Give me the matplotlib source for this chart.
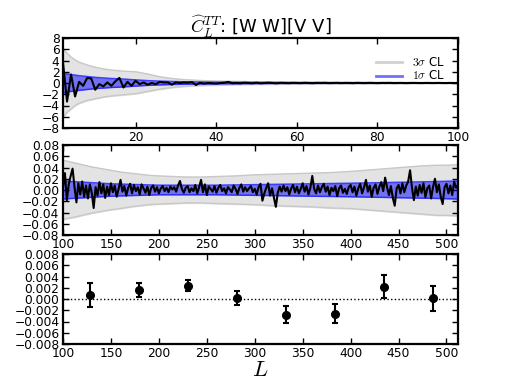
import numpy as np
import matplotlib
matplotlib.use("Agg")
import matplotlib.pyplot as plt
from matplotlib.lines import Line2D

plt.rcParams['mathtext.fontset'] = 'cm'
plt.rcParams['font.family'] = ['DejaVu Sans']

# ---------------- data ----------------
# top panel: L = 2..100
top_L = np.arange(2, 101)
top_vals = [3.6, -3.3, 1.5, -2.4, 0.2, -0.5, 0.9, 0.8, -1.2, -0.2,
            -0.6, 0.1, -0.5, 0.3, 0.9, -0.8, 0.2, -0.5, 0.4, -0.2,
            0.1, -0.3, 0.0, -0.2, 0.2, 0.1, 0.1, -0.3, 0.1, 0.0,
            0.1, 0.05, 0.15, -0.35, 0.05, -0.1, 0.0, -0.05, -0.1, 0.0,
            0.05, 0.2, -0.05, 0.0, -0.05, 0.05, 0.0, -0.05, 0.05, -0.05,
            0.0, 0.05, 0.0, -0.05, 0.03, 0.0, -0.03, 0.02, 0.0, -0.02,
            0.03, 0.0, -0.03, 0.02, 0.0, 0.03, -0.02, 0.0, 0.02, -0.02,
            0.01, 0.0, -0.02, 0.02, 0.0, -0.01, 0.02, 0.0, -0.02, 0.01,
            0.0, 0.02, -0.01, 0.0, 0.01, -0.02, 0.0, 0.01, 0.0, -0.01,
            0.01, 0.0, -0.01, 0.01, 0.0, -0.01, 0.01, 0.0, 0.0]

top_band_L = [2, 3, 4, 5, 6, 8, 10, 12, 14, 17, 20, 23, 26, 29, 32, 36, 40, 45, 50, 60, 70, 80, 90, 100]
top_3s_hi = [6.0, 5.3, 4.6, 4.1, 3.7, 3.2, 2.8, 2.5, 2.3, 2.1, 2.0, 1.6, 1.1, 0.8, 0.6, 0.45, 0.35, 0.28, 0.22, 0.16, 0.12, 0.1, 0.08, 0.07]
top_3s_lo = [-6.0, -5.2, -4.6, -4.0, -3.6, -3.1, -2.8, -2.5, -2.3, -2.1, -1.9, -1.5, -1.1, -0.8, -0.6, -0.45, -0.35, -0.28, -0.22, -0.16, -0.12, -0.1, -0.08, -0.07]
top_1s = [1.8, 1.6, 1.5, 1.4, 1.3, 1.15, 1.0, 0.9, 0.8, 0.7, 0.55, 0.42, 0.33, 0.27, 0.22, 0.18, 0.15, 0.12, 0.1, 0.07, 0.06, 0.05, 0.045, 0.04]

# middle panel: L = 100..512 (step 2), values in units of 1e-3
mid_L = np.arange(100, 513, 2)
mid_vals_milli = [5, 30, -18, 10, 25, 38, 5, -22, 12, -8,
                  15, -12, 8, -15, 10, -5, -32, 5, -10, 14,
                  -6, 10, -14, 6, -9, 12, -4, 8, -12, 2,
                  18, -3, 7, -10, 4, 11, -6, 9, -2, 5,
                  -8, 10, 3, -5, 6, -9, 4, 8, -3, 5,
                  -6, 3, 7, -2, 4, -4, 6, 1, 5, -3,
                  8, 16, 2, -5, 4, 7, -4, 3, -2, 9,
                  -6, 5, 18, -4, 10, -9, 6, 2, -3, 7,
                  -5, 4, 9, -2, 3, -6, 5, 1, -4, 8,
                  2, -7, 4, 10, -3, 5, -2, 3, 7, -4,
                  2, -8, 5, 11, -19, -6, 4, 12, -10, 3,
                  -14, -30, -5, 6, -3, 8, -2, 5, -8, 3,
                  9, -4, 6, -6, 2, 12, -3, 7, -8, 4,
                  25, 2, -6, 8, -4, 5, 11, -3, 6, -9,
                  4, -2, 7, -11, 3, 8, -5, 2, -7, 5,
                  9, -4, 6, -10, 3, 11, -6, 5, 18, -3,
                  8, -12, 4, 10, -7, 6, 14, -2, 22, 5,
                  -9, 7, -14, -28, 3, 9, -6, 12, -4, 8,
                  15, 35, 4, -18, 6, -10, 9, -5, 12, -13,
                  3, 8, -15, 6, 20, -4, 10, -12, -25, 5,
                  11, -6, 8, -9, 15, 4, 9]

mid_band_L = [100, 110, 120, 130, 140, 150, 160, 170, 180, 190, 200, 215, 230, 245, 260,
              280, 300, 320, 340, 360, 380, 400, 415, 430, 445, 460, 475, 490, 500, 512]
mid_3s_hi_milli = [53, 49, 45, 41, 38, 35, 32, 30, 28, 26, 25, 24, 23, 23, 24,
                   25, 27, 28, 29, 30, 31, 33, 35, 37, 39, 41, 43, 44, 44, 45]
mid_3s_lo_milli = [-52, -49, -45, -41, -38, -35, -33, -30, -28, -26, -25, -24, -23, -23, -24,
                   -25, -26, -28, -29, -30, -32, -33, -35, -37, -39, -41, -43, -45, -45, -46]
mid_1s_milli = [16, 15, 14, 13, 12, 11, 10.5, 10, 9.5, 9, 8.5, 8.5, 8.5, 8.5, 8.5,
                9, 9.5, 10, 10.5, 11, 11.5, 12, 12.5, 13, 13.5, 14, 14.5, 15, 15.5, 16]

# bottom panel: binned values
bin_L = [128.5, 179.5, 230.5, 281.5, 332.5, 383.5, 434.5, 485.5]
bin_vals = [0.0007, 0.0016, 0.0024, 0.0002, -0.0028, -0.0026, 0.0022, 0.0001]
bin_errs = [0.0022, 0.0013, 0.0010, 0.0012, 0.0015, 0.0017, 0.0021, 0.0022]

title_text = r'$\widehat{C}_L^{TT}$: [W W][V V]'

# ---------------- plotting ----------------
mid_vals = np.array(mid_vals_milli[:len(mid_L)]) * 1e-3
mid_3s_hi = np.array(mid_3s_hi_milli) * 1e-3
mid_3s_lo = np.array(mid_3s_lo_milli) * 1e-3
mid_1s = np.array(mid_1s_milli) * 1e-3

fig = plt.figure(figsize=(5.09, 3.82), dpi=100)
left, width = 63 / 509, (458 - 63) / 509
ax1 = fig.add_axes([left, 1 - 128 / 382, width, 90 / 382])
ax2 = fig.add_axes([left, 1 - 235 / 382, width, 90 / 382])
ax3 = fig.add_axes([left, 1 - 344 / 382, width, 90 / 382])

gray_fill = '#e3e3e3'
gray_edge = '#c8c8c8'


def style(ax):
    ax.tick_params(direction='in', top=True, right=True, length=4, width=1,
                   labelsize=8.8, pad=2.5)
    for s in ax.spines.values():
        s.set_linewidth(1.6)


def bands(ax, L, hi3, lo3, s1):
    L = np.asarray(L)
    s1 = np.asarray(s1)
    ax.fill_between(L, lo3, hi3, color=gray_fill, zorder=1)
    ax.plot(L, hi3, color=gray_edge, lw=1, zorder=1.5)
    ax.plot(L, lo3, color=gray_edge, lw=1, zorder=1.5)
    ax.fill_between(L, -s1, s1, color='#0000ff', alpha=0.5, lw=0, zorder=2)
    ax.plot(L, s1, color='#2222ff', lw=1.1, alpha=0.85, zorder=2.5)
    ax.plot(L, -s1, color='#2222ff', lw=1.1, alpha=0.85, zorder=2.5)


# top
bands(ax1, top_band_L, top_3s_hi, top_3s_lo, top_1s)
ax1.plot(top_L, top_vals, color='black', lw=1.5, zorder=3)
ax1.set_xlim(2, 100)
ax1.set_ylim(-8, 8)
ax1.set_yticks(np.arange(-8, 9, 2))
ax1.set_xticks([20, 40, 60, 80, 100])
style(ax1)
ax1.set_title(title_text, fontsize=13, pad=3)
handles = [Line2D([], [], color='#d0d0d0', lw=2),
           Line2D([], [], color='#7070ff', lw=2)]
ax1.legend(handles, [r'$3\sigma$ CL', r'$1\sigma$ CL'], loc='upper right',
           bbox_to_anchor=(0.995, 0.92), frameon=False, fontsize=8.5,
           labelspacing=0.05, handlelength=2.2, handletextpad=0.9,
           handleheight=0.5)

# middle
bands(ax2, mid_band_L, mid_3s_hi, mid_3s_lo, mid_1s)
ax2.plot(mid_L, mid_vals, color='black', lw=1.5, zorder=3)
ax2.set_xlim(100, 512)
ax2.set_ylim(-0.08, 0.08)
ax2.set_yticks(np.arange(-0.08, 0.081, 0.02))
ax2.set_xticks(np.arange(100, 501, 50))
style(ax2)

# bottom
ax3.axhline(0, color='black', ls=':', lw=1)
ax3.errorbar(bin_L, bin_vals, yerr=bin_errs, fmt='o', color='black', ms=5.5,
             elinewidth=1.5, capsize=2.5, capthick=1.5)
ax3.set_xlim(100, 512)
ax3.set_ylim(-0.008, 0.008)
ax3.set_yticks(np.arange(-0.008, 0.0081, 0.002))
ax3.set_xticks(np.arange(100, 501, 50))
style(ax3)
ax3.set_xlabel(r'$L$', fontsize=16, labelpad=0)

fig.savefig('out.png', dpi=100)
